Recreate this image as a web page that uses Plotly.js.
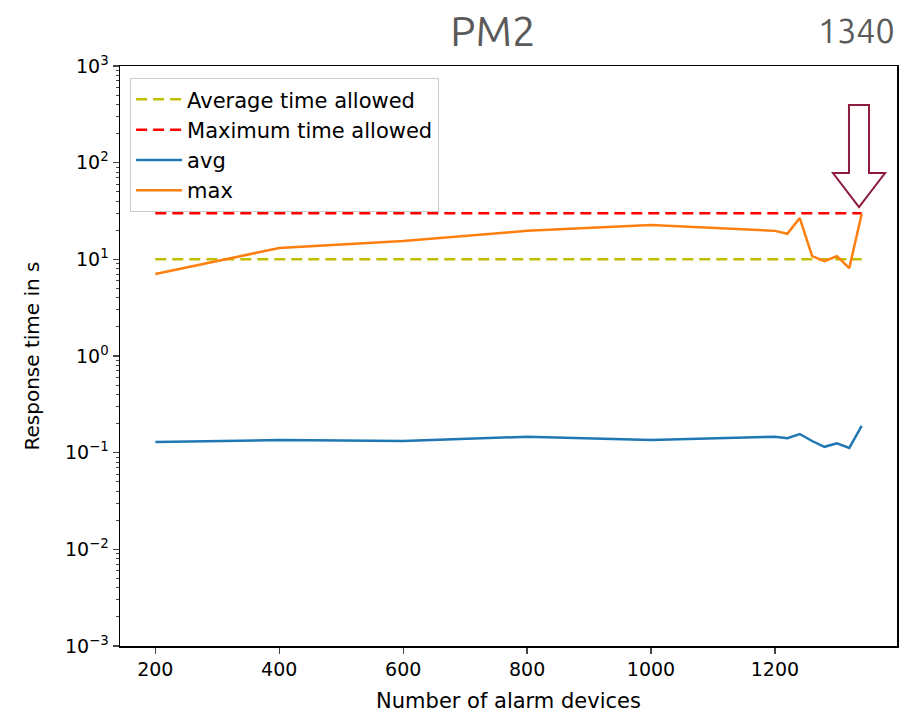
<!DOCTYPE html>
<html>
<head>
<meta charset="utf-8">
<script src="https://cdn.plot.ly/plotly-3.0.1.min.js"></script>
<style>html,body{margin:0;padding:0;background:#fff;}#chart{width:915px;height:714px;}</style>
</head>
<body>
<div id="chart"></div>
<script>
const devices = [200, 400, 600, 800, 1000, 1200, 1220, 1240, 1260, 1280, 1300, 1320, 1340];
const avgTimes = [0.129, 0.135, 0.132, 0.146, 0.135, 0.146, 0.141, 0.156, 0.132, 0.115, 0.125, 0.112, 0.189];
const maxTimes = [7.06, 13.1, 15.5, 19.7, 22.7, 19.7, 18.4, 26.8, 10.8, 9.6, 10.8, 8.1, 29.5];
const limitX = [200, 1340];
const avgAllowed = [10, 10];
const maxAllowed = [30, 30];
const yTickVals = [0.001, 0.01, 0.1, 1, 10, 100, 1000];
const yTickText = ['10<sup>−3</sup>', '10<sup>−2</sup>', '10<sup>−1</sup>', '10<sup>0</sup>', '10<sup>1</sup>', '10<sup>2</sup>', '10<sup>3</sup>'];
const xTickVals = [200, 400, 600, 800, 1000, 1200];

const font = "'DejaVu Sans', sans-serif";
const titleFont = "Ubuntu, 'DejaVu Sans Condensed', 'Liberation Sans Narrow', Roboto, sans-serif";
const traces = [
  {x: limitX, y: avgAllowed, mode: 'lines', name: 'Average time allowed',
   line: {color: '#bfbf00', width: 2.5, dash: '11px,6px'}},
  {x: limitX, y: maxAllowed, mode: 'lines', name: 'Maximum time allowed',
   line: {color: '#ff0000', width: 2.5, dash: '11px,6px'}},
  {x: devices, y: avgTimes, mode: 'lines', name: 'avg',
   line: {color: '#1f77b4', width: 2.5}},
  {x: devices, y: maxTimes, mode: 'lines', name: 'max',
   line: {color: '#ff7f0e', width: 2.5}}
];

const layout = {
  width: 915, height: 714,
  margin: {l: 120, r: 18, t: 66, b: 68},
  paper_bgcolor: '#fff', plot_bgcolor: '#fff',
  font: {family: font, size: 19, color: '#000'},
  showlegend: true,
  legend: {x: 0.013, y: 0.979, xanchor: 'left', yanchor: 'top', itemwidth: 46,
    bgcolor: 'rgba(255,255,255,0.9)', bordercolor: '#cccccc', borderwidth: 1,
    font: {family: font, size: 21}, tracegroupgap: 0},
  title: {text: 'PM2', x: 0.48, xref: 'paper', xanchor: 'center', y: 0.956, yanchor: 'middle',
    font: {family: titleFont, size: 42, color: '#5a5a5a'}},
  xaxis: {range: [143, 1397], tickvals: xTickVals, ticks: 'outside', ticklen: 6, tickwidth: 1.2,
    showgrid: false, zeroline: false, showline: true, linecolor: '#000', linewidth: 1.5, mirror: true,
    tickfont: {family: font, size: 19},
    title: {text: 'Number of alarm devices', font: {family: font, size: 21}, standoff: 14}},
  yaxis: {type: 'log', range: [-3, 3], tickvals: yTickVals, ticktext: yTickText,
    ticks: 'outside', ticklen: 6, tickwidth: 1.2,
    minor: {ticks: 'outside', ticklen: 3, tickwidth: 1, dtick: 'D1', showgrid: false},
    showgrid: false, zeroline: false, showline: true, linecolor: '#000', linewidth: 1.5, mirror: true,
    tickfont: {family: font, size: 19},
    title: {text: 'Response time in s', font: {family: font, size: 20}, standoff: 20}},
  annotations: [
    {text: '1340', xref: 'paper', yref: 'paper', x: 0.948, y: 1.062, xanchor: 'center', yanchor: 'middle',
     showarrow: false, font: {family: titleFont, size: 34, color: '#5a5a5a'}}
  ],
  shapes: [
    {type: 'path', xref: 'paper', yref: 'paper',
     path: 'M 0.9382 0.9328 L 0.9640 0.9328 L 0.9640 0.8155 L 0.9846 0.8155 L 0.9511 0.7569 L 0.9176 0.8155 L 0.9382 0.8155 Z',
     line: {color: '#8e1a3c', width: 2}, fillcolor: 'rgba(255,255,255,0)'}
  ]
};

Plotly.newPlot('chart', traces, layout, {displayModeBar: false, staticPlot: true});
</script>
</body>
</html>
